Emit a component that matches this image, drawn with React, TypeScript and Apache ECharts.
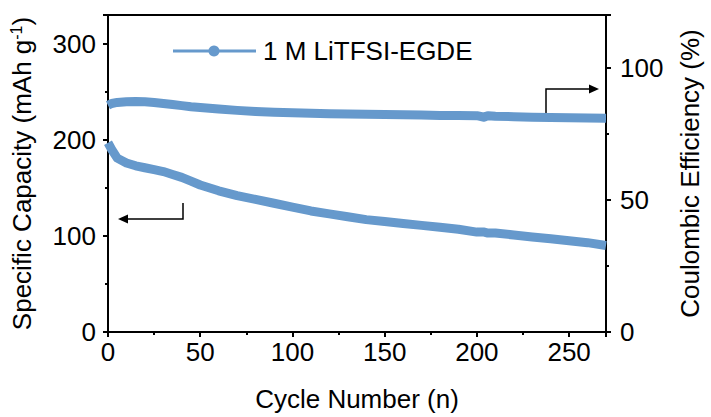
import React, { useEffect, useRef } from "react";
import * as echarts from "echarts";

const cycles = [0, 2, 5, 10, 15, 20, 25, 30, 35, 40, 45, 50, 60, 70, 80, 90, 100, 110, 120, 130, 140, 150, 160, 170, 180, 190, 200, 204, 206, 210, 220, 230, 240, 250, 260, 270];
const capacity = [197, 190, 181, 176, 173, 171, 169, 167, 164, 161, 157, 153, 147, 142, 138, 134, 130, 126, 123, 120, 117, 115, 113, 111, 109, 107, 104, 104, 103, 103, 101, 99, 97, 95, 93, 90];
const efficiency = [85.8, 86.5, 86.9, 87.2, 87.3, 87.2, 86.9, 86.5, 86.1, 85.7, 85.3, 85.0, 84.4, 83.9, 83.5, 83.2, 83.0, 82.8, 82.6, 82.5, 82.4, 82.3, 82.2, 82.1, 82.0, 82.0, 81.9, 81.3, 81.9, 81.7, 81.5, 81.3, 81.2, 81.1, 81.0, 80.9];
const seriesName = "1 M LiTFSI-EGDE";

const FONT = 'Arial, "Liberation Sans", sans-serif';
const BLUE = "#6699cc";
const FS = 26;

export default function App() {
  const ref = useRef<HTMLDivElement>(null);
  useEffect(() => {
    if (!ref.current) return;
    const chart = echarts.init(ref.current, null, { renderer: "svg" });
    const axisCommon = {
      axisLine: { show: true, lineStyle: { color: "#000", width: 2 } },
      axisTick: { show: true, inside: false, length: 5, lineStyle: { color: "#000", width: 2 } },
      minorTick: { show: true, splitNumber: 2, length: 3, lineStyle: { color: "#000", width: 2 } },
      splitLine: { show: false },
      axisLabel: { color: "#000", fontSize: FS, fontFamily: FONT },
      nameTextStyle: { color: "#000", fontSize: FS, fontFamily: FONT },
    };
    chart.setOption({
      animation: false,
      grid: { left: 106, right: 98, top: 15, bottom: 84, show: true, borderColor: "#000", borderWidth: 2 },
      xAxis: {
        type: "value",
        min: 0,
        max: 270,
        interval: 50,
        name: "Cycle Number (n)",
        nameLocation: "middle",
        nameGap: 54,
        ...axisCommon,
        axisLabel: { ...axisCommon.axisLabel, margin: 7, showMaxLabel: false },
      },
      yAxis: [
        {
          type: "value",
          min: 0,
          max: 330,
          interval: 100,
          name: "Specific Capacity (mAh g{sup|-1})",
          nameLocation: "middle",
          nameRotate: 90,
          nameGap: 72,
          ...axisCommon,
          nameTextStyle: {
            ...axisCommon.nameTextStyle,
            rich: { sup: { fontSize: 16, fontFamily: FONT, color: "#000", verticalAlign: "top", padding: [0, 0, 12, 0] } },
          },
          axisLabel: { ...axisCommon.axisLabel, margin: 12, showMaxLabel: false },
        },
        {
          type: "value",
          min: 0,
          max: 120,
          interval: 50,
          position: "right",
          name: "Coulombic Efficiency (%)",
          nameLocation: "middle",
          nameRotate: 90,
          nameGap: 71,
          ...axisCommon,
          axisLabel: { ...axisCommon.axisLabel, margin: 14, showMaxLabel: false },
        },
      ],
      series: [
        {
          name: seriesName,
          type: "line",
          yAxisIndex: 0,
          data: cycles.map((c, i) => [c, capacity[i]]),
          symbol: "none",
          lineStyle: { color: BLUE, width: 9, cap: "butt", join: "round" },
          itemStyle: { color: BLUE },
        },
        {
          name: "Coulombic Efficiency",
          type: "line",
          yAxisIndex: 1,
          data: cycles.map((c, i) => [c, efficiency[i]]),
          symbol: "none",
          lineStyle: { color: BLUE, width: 9, cap: "butt", join: "round" },
          itemStyle: { color: BLUE },
        },
      ],
      graphic: [
        { type: "line", shape: { x1: 173, y1: 51, x2: 256, y2: 51 }, style: { stroke: BLUE, lineWidth: 3 } },
        { type: "circle", shape: { cx: 214, cy: 51, r: 5.5 }, style: { fill: BLUE } },
        { type: "text", x: 263, y: 51, style: { text: seriesName, fill: "#000", fontSize: FS, fontFamily: FONT, verticalAlign: "middle", align: "left" } },
        { type: "polyline", shape: { points: [[183, 203], [183, 219], [126, 219]] }, style: { stroke: "#000", lineWidth: 1.5, fill: null } },
        { type: "polygon", shape: { points: [[118, 219], [128, 214.5], [128, 223.5]] }, style: { fill: "#000" } },
        { type: "polyline", shape: { points: [[546, 113], [546, 89], [590, 89]] }, style: { stroke: "#000", lineWidth: 1.5, fill: null } },
        { type: "polygon", shape: { points: [[599, 89], [589, 84.5], [589, 93.5]] }, style: { fill: "#000" } },
      ],
    });
    return () => chart.dispose();
  }, []);
  return <div ref={ref} style={{ position: "absolute", left: 0, top: 0, width: 711, height: 417 }} />;
}
